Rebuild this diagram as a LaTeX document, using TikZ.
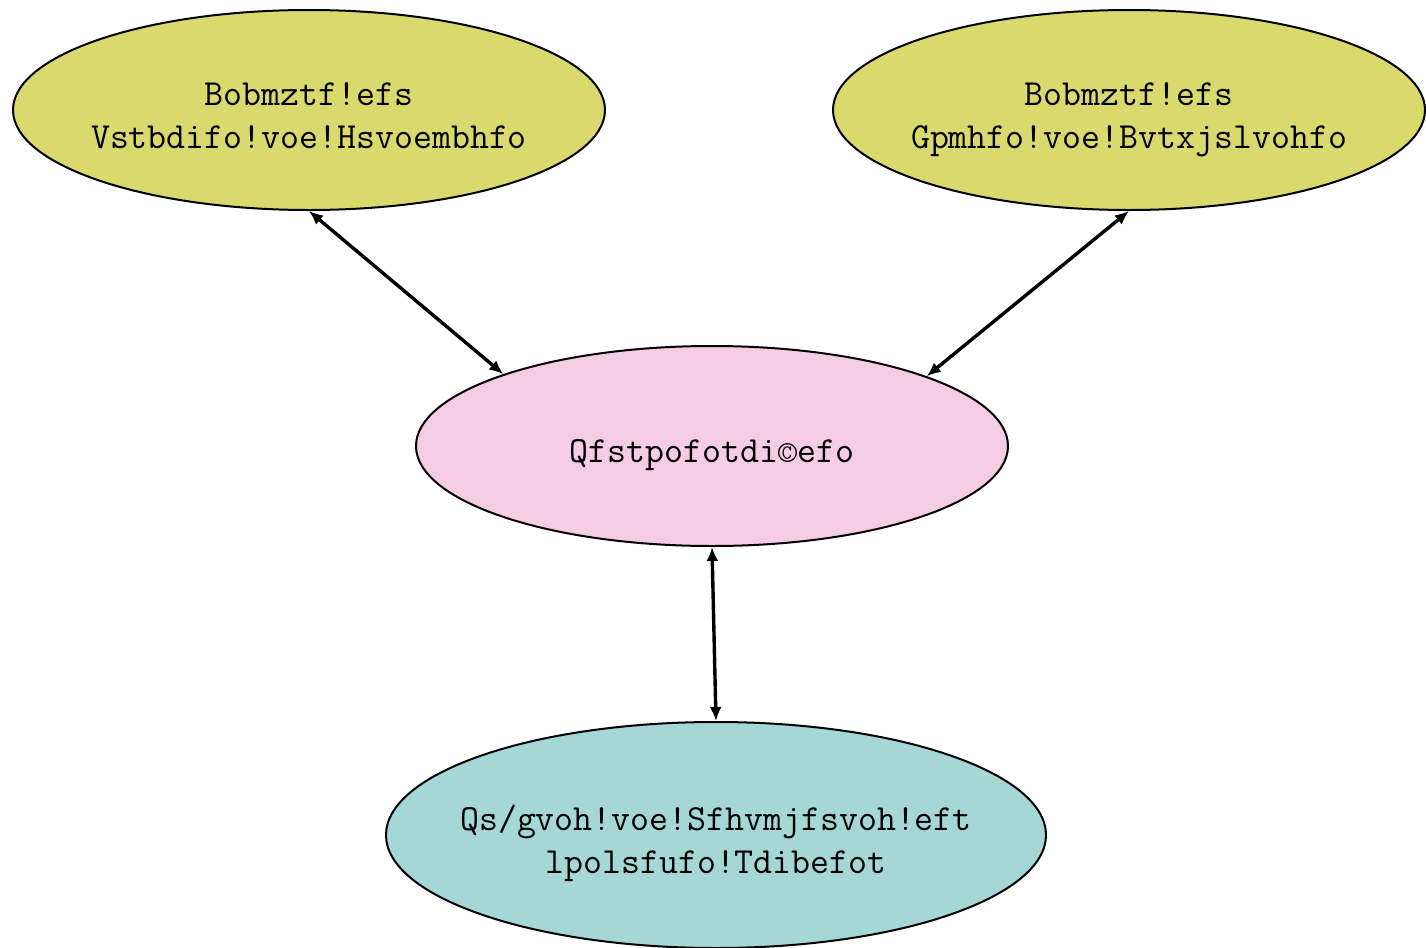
\documentclass[tikz,border=0pt]{standalone}
\usepackage{fontspec}
\usetikzlibrary{positioning,shapes,arrows.meta}

\definecolor{olivefill}{HTML}{DAD96E}
\definecolor{pinkfill}{HTML}{F4CCE4}
\definecolor{tealfill}{HTML}{A5D7D6}
% lower the label a little inside its ellipse
\newcommand{\lowlabel}[1]{\raisebox{-4pt}[\height][\depth]{\begin{tabular}{@{}c@{}}#1\end{tabular}}}

\begin{document}
\begin{tikzpicture}[x=0.5pt,y=-0.5pt,
	blob/.style={ellipse, draw=black, line width=1pt, inner xsep=-30pt, inner ysep=0pt,
		minimum width=296pt, minimum height=100pt,
		font=\ttfamily\fontsize{18.4}{21.5}\selectfont},
	link/.style={{Latex[length=7pt,width=6pt]}-{Latex[length=7pt,width=6pt]}, line width=1.7pt}]
	\useasboundingbox (0,0) rectangle (1426,948);
	\node[blob, fill=olivefill] (UG) at (309,110) {\lowlabel{Bobmztf!efs\\Vstbdifo!voe!Hsvoembhfo}};
	\node[blob, fill=olivefill] (FA) at (1129,110) {\lowlabel{Bobmztf!efs\\Gpmhfo!voe!Bvtxjslvohfo}};
	\node[blob, fill=pinkfill] (PS) at (712,446) {\lowlabel{Qfstpofotdi©efo}};
	\node[blob, fill=tealfill, minimum width=330pt, minimum height=113pt] (PR) at (716,835) {\lowlabel{Qs/gvoh!voe!Sfhvmjfsvoh!eft\\lpolsfufo!Tdibefot}};
	\draw[link] (UG.south) -- (PS.161);
	\draw[link] (FA.south) -- (PS.18.8);
	\draw[link] (PS.south) -- (PR.north);
\end{tikzpicture}
\end{document}
